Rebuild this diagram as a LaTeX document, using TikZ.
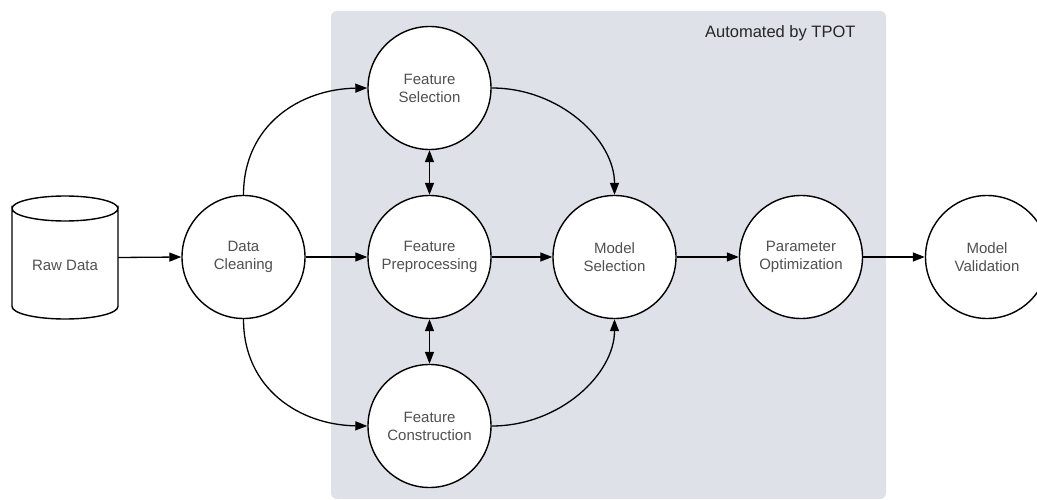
\documentclass[tikz,border=0pt]{standalone}
\usepackage{fontspec}
\setmainfont{Liberation Sans}
\usetikzlibrary{arrows.meta}
\definecolor{panelgray}{HTML}{DEE1E8}
\definecolor{labelgray}{HTML}{505050}
\begin{document}
\begin{tikzpicture}[x=1pt,y=-1pt,
  stage/.style={circle, draw=black, line width=1.4pt, fill=white,
    minimum size=123pt, inner sep=0pt, align=center,
    font=\fontsize{15}{18}\selectfont, text=labelgray},
  flow/.style={line width=1.3pt, -{Triangle[length=12pt,width=9pt]}},
  both/.style={line width=1.3pt, {Triangle[length=12pt,width=9pt]}-{Triangle[length=12pt,width=9pt]}}]
\useasboundingbox (0,0) rectangle (1037,500);
\clip (0,0) rectangle (1037,500);

% shaded region of automated stages
\fill[panelgray, rounded corners=6pt] (331,11) rectangle (886,499);
\node[anchor=east, font=\fontsize{16.5}{19}\selectfont, text=black!85] (tpot) at (859,33) {Automated by TPOT};

% raw data store (cylinder outline, then its label)
\draw[line width=1.4pt, fill=white]
  (12,208.5) -- (12,306.5) arc[start angle=180, end angle=360, x radius=53pt, y radius=12.5pt]
  -- (118,208.5) arc[start angle=0, end angle=-180, x radius=53pt, y radius=12.5pt] -- cycle;
\draw[line width=1.4pt] (12,208.5) arc[start angle=180, end angle=360, x radius=53pt, y radius=-12.5pt];
\node[minimum width=106pt, minimum height=123pt, inner sep=0pt,
  font=\fontsize{15}{18}\selectfont, text=labelgray] (raw) at (65,265) {Raw Data};
\coordinate (rawout) at (118,257.5);

% process stages
\node[stage] (clean) at (243.5,257) {Data\\Cleaning};
\node[stage] (fsel) at (429.5,88) {Feature\\Selection};
\node[stage] (fpre) at (429.5,257) {Feature\\Preprocessing};
\node[stage] (fcon) at (429.5,426) {Feature\\Construction};
\node[stage] (msel) at (614.5,257) {Model\\Selection};
\node[stage] (popt) at (801,257) {Parameter\\Optimization};
\node[stage] (mval) at (987,257) {Model\\Validation};

% connectors
\draw[flow] (rawout) -- (clean.west);
\draw[flow] (clean.north) .. controls (243.5,125) and (300,89) .. (fsel.west);
\draw[flow] (clean.east) -- (fpre.west);
\draw[flow] (clean.south) .. controls (243.5,389) and (300,425) .. (fcon.west);
\draw[both] (fsel.south) -- (fpre.north);
\draw[both] (fpre.south) -- (fcon.north);
\draw[flow] (fsel.east) .. controls (560,88) and (614.5,140) .. (msel.north);
\draw[flow] (fcon.east) .. controls (560,426) and (614.5,374) .. (msel.south);
\draw[flow] (fpre.east) -- (msel.west);
\draw[flow] (msel.east) -- (popt.west);
\draw[flow] (popt.east) -- (mval.west);
\end{tikzpicture}
\end{document}
